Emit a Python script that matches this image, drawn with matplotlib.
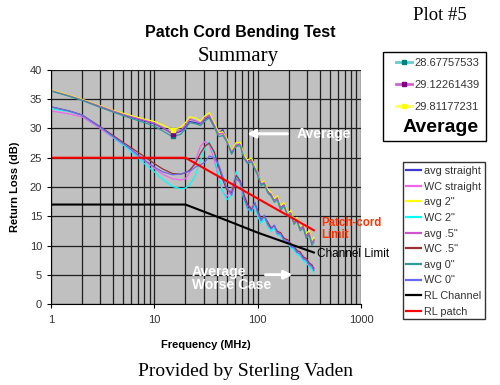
"""
Patch cord bending test - return loss summary (Plot #5).
Saves out.png (500x385).
"""
import matplotlib
matplotlib.use("Agg")
import matplotlib.pyplot as plt
from matplotlib.patches import Rectangle
from matplotlib.ticker import LogLocator, NullFormatter

plt.rcParams["font.family"] = ["Liberation Sans", "DejaVu Sans"]

# frequency points (MHz) shared by the measured curves
freq = [1, 1.5, 2, 3, 4, 5, 6, 8, 10, 12, 15, 18, 20, 22, 25, 28, 31, 34, 38, 42,
        46, 50, 56, 62, 68, 74, 80, 87, 94, 100, 108, 116, 125, 135, 145, 155,
        167, 180, 195, 210, 225, 240, 258, 276, 295, 315, 335, 350]

# average curves (upper bundle)
avg_straight = [36.5, 35.6, 34.9, 33.7, 32.9, 32.3, 31.9, 31.3, 30.8, 30.1, 29.1, 29.5,
                30.2, 31.2, 31.0, 30.8, 31.6, 32.0, 30.4, 29.2, 29.8, 28.2, 25.8, 27.0,
                27.4, 25.2, 24.0, 24.8, 23.4, 22.8, 20.6, 20.6, 19.4, 18.6, 17.8, 18.0,
                16.6, 16.9, 15.3, 15.5, 14.0, 14.3, 13.0, 13.2, 11.8, 12.0, 10.6, 10.9]
avg_2in = [36.6, 35.7, 35.0, 33.9, 33.1, 32.6, 32.2, 31.6, 31.2, 30.6, 29.8, 30.2,
           31.0, 32.0, 31.8, 31.3, 32.2, 32.7, 31.0, 29.3, 29.4, 28.4, 26.2, 27.6,
           27.6, 25.4, 24.6, 25.0, 23.6, 22.6, 20.8, 21.0, 19.6, 19.0, 18.0, 18.5,
           16.8, 17.3, 15.5, 16.0, 14.2, 14.8, 13.2, 13.8, 12.0, 12.6, 10.8, 11.4]
avg_05in = [36.5, 35.6, 34.9, 33.8, 33.0, 32.4, 32.0, 31.4, 30.9, 30.2, 29.2, 29.7,
            30.5, 31.6, 31.3, 30.9, 31.8, 32.3, 30.6, 29.0, 29.2, 28.0, 26.0, 27.2,
            27.2, 25.0, 24.2, 24.6, 23.2, 22.4, 20.4, 20.8, 19.2, 18.8, 17.6, 18.2,
            16.4, 17.0, 15.2, 15.6, 13.8, 14.5, 12.8, 13.4, 11.6, 12.2, 10.4, 11.0]
avg_0in = [36.4, 35.5, 34.8, 33.6, 32.8, 32.2, 31.7, 31.0, 30.4, 29.6, 28.6, 29.0,
           29.9, 31.0, 30.8, 30.5, 31.3, 31.8, 30.2, 28.6, 28.8, 27.8, 25.6, 27.0,
           27.0, 24.8, 24.0, 24.3, 23.0, 22.0, 20.2, 20.5, 19.0, 18.4, 17.4, 17.8,
           16.0, 16.8, 15.0, 15.3, 13.6, 14.2, 12.5, 13.0, 11.2, 11.8, 10.0, 10.6]

# worst-case curves (lower bundle)
wc_straight = [33.0, 32.5, 32.0, 30.0, 28.4, 27.2, 26.2, 24.5, 23.2, 22.2, 21.4, 21.2,
               21.4, 22.5, 24.6, 27.0, 27.8, 27.2, 24.6, 21.6, 19.2, 18.3, 19.6, 22.6,
               20.4, 18.0, 16.8, 16.6, 17.0, 15.4, 14.6, 14.8, 13.4, 13.2, 12.8, 12.6,
               11.6, 11.4, 10.5, 10.4, 9.5, 9.3, 8.4, 8.3, 7.4, 7.2, 6.3, 6.2]
wc_2in = [33.4, 32.9, 32.3, 30.2, 28.5, 27.2, 26.0, 24.0, 22.6, 21.3, 20.1, 19.7,
          19.8, 20.4, 22.0, 24.6, 26.8, 27.7, 25.6, 22.0, 19.2, 17.8, 18.6, 22.6,
          20.8, 17.6, 16.2, 15.8, 16.8, 15.0, 13.8, 14.6, 13.2, 12.4, 13.0, 11.8,
          11.6, 10.6, 10.4, 9.6, 9.2, 8.5, 8.2, 7.4, 7.1, 6.4, 6.0, 5.4]
wc_05in = [33.7, 33.0, 32.3, 30.3, 28.8, 27.6, 26.7, 25.2, 24.0, 23.1, 22.3, 22.2,
           22.4, 22.9, 24.0, 25.8, 27.0, 27.5, 26.0, 23.5, 21.2, 19.6, 19.0, 22.0,
           21.0, 18.6, 17.0, 16.2, 17.2, 16.0, 14.5, 15.0, 14.0, 13.0, 13.4, 12.4,
           12.2, 11.2, 11.0, 10.2, 9.9, 9.1, 8.9, 8.0, 7.8, 7.0, 6.7, 6.0]
wc_0in = [33.7, 33.0, 32.3, 30.2, 28.6, 27.4, 26.4, 24.6, 23.4, 22.6, 22.1, 22.2,
          22.5, 22.7, 23.4, 23.8, 24.3, 25.3, 25.0, 23.8, 21.8, 20.0, 18.6, 21.4,
          20.8, 18.0, 16.4, 16.0, 17.4, 15.6, 14.2, 15.2, 13.6, 12.8, 13.5, 12.0,
          12.0, 10.8, 10.8, 9.8, 9.6, 8.8, 8.6, 7.7, 7.5, 6.7, 6.4, 5.7]

# limit lines
channel_f = [1, 20, 50, 100, 350]
rl_channel = [17, 17, 14.3, 12.2, 8.8]
patch_f = [1, 20, 350]
rl_patch = [25, 25, 12.6]

# marked averages (first legend)
mark_f = [15, 15, 15]
mark_vals = [28.67757533, 29.12261439, 29.81177231]
mark_line = ["#66cccc", "#cc66cc", "#ffff66"]
mark_face = ["#008080", "#800080", "#ffff00"]


def px(x, y):
    return x / 500, 1 - y / 385


fig = plt.figure(figsize=(5, 3.85), dpi=100)
ax = fig.add_axes([51 / 500, 1 - 304 / 385, 310 / 500, 234 / 385])
ax.set_facecolor("#c0c0c0")

lw = 0.9
series = [
    (avg_straight, "#3a3ad0", "avg straight"),
    (wc_straight, "#ee66ee", "WC straight"),
    (avg_2in, "#ffff00", 'avg 2"'),
    (wc_2in, "#00ffff", 'WC 2"'),
    (avg_05in, "#cc55cc", 'avg .5"'),
    (wc_05in, "#993333", 'WC .5"'),
    (avg_0in, "#339999", 'avg 0"'),
    (wc_0in, "#6a6af0", 'WC 0"'),
]
handles = []
for vals, col, lab in series:
    h, = ax.plot(freq, vals, color=col, lw=lw, label=lab)
    handles.append(h)
h, = ax.plot(channel_f, rl_channel, color="black", lw=1.5, label="RL Channel")
handles.append(h)
h, = ax.plot(patch_f, rl_patch, color="#ff0000", lw=1.5, label="RL patch")
handles.append(h)

mark_handles = []
for f, v, lc, fc in zip(mark_f, mark_vals, mark_line, mark_face):
    m, = ax.plot([f], [v], color=lc, lw=2, marker="s", ms=2.5,
                 mfc=fc, mec=fc, label=f"{v:.8f}")
    mark_handles.append(m)

ax.set_xscale("log")
ax.set_xlim(1, 1000)
ax.set_ylim(0, 40)
ax.set_yticks(range(0, 41, 5))
ax.set_xticks([1, 10, 100, 1000])
ax.set_xticklabels(["1", "10", "100", "1000"])
ax.xaxis.set_minor_locator(LogLocator(base=10, subs=range(2, 10)))
ax.xaxis.set_minor_formatter(NullFormatter())
ax.tick_params(axis="both", which="major", length=3, width=0.8,
               labelsize=8, labelcolor="#333333", direction="out")
ax.tick_params(axis="x", which="minor", length=0)
ax.tick_params(axis="x", pad=5)
ax.grid(True, which="both", axis="x", color="#1e1e1e", lw=0.9)
ax.grid(True, which="major", axis="y", color="#1e1e1e", lw=0.9)
ax.set_axisbelow(True)
for s in ("top", "right"):
    ax.spines[s].set_visible(False)

ax.set_xlabel("Frequency (MHz)", fontsize=8, fontweight="bold")
ax.set_ylabel("Return Loss (dB)", fontsize=8, fontweight="bold")
ax.xaxis.set_label_coords(0.5, -0.155)
ax.yaxis.set_label_coords(-0.1, 0.5)

# annotations
ax.annotate("", xy=(74, 29.1), xytext=(206, 29.1),
            arrowprops=dict(arrowstyle="-|>", color="white", lw=2.2, mutation_scale=12))
ax.text(240, 29.1, "Average", color="white", fontsize=10, fontweight="bold",
        va="center", ha="left")
ax.annotate("", xy=(232, 5.0), xytext=(112, 5.0),
            arrowprops=dict(arrowstyle="-|>", color="white", lw=2.2, mutation_scale=12))
ax.text(23.2, 4.4, "Average\nWorse Case", color="white", fontsize=10,
        fontweight="bold", va="center", ha="left", linespacing=0.95)
ax.text(411, 12.8, "Patch-cord\nLimit", color="#ff3300", fontsize=8.3,
        fontweight="bold", va="center", ha="left", linespacing=1.05, clip_on=False)
ax.text(374, 8.5, "Channel Limit", color="black", fontsize=8.5,
        va="center", ha="left", clip_on=False)

# titles
fig.text(*px(240, 33), "Patch Cord Bending Test", fontsize=11.5, fontweight="bold",
         ha="center", va="center")
fig.text(*px(238, 56), "Summary", fontsize=15, family="Liberation Serif",
         ha="center", va="center")
fig.text(*px(440, 15), "Plot #5", fontsize=13.5, family="Liberation Serif",
         ha="center", va="center")
fig.text(*px(245, 371), "Provided by Sterling Vaden", fontsize=14,
         family="Liberation Serif", ha="center", va="center")

# first legend box (marked averages)
fig.patches.append(Rectangle(px(383, 141), 103 / 500, 89 / 385, transform=fig.transFigure,
                             fill=False, edgecolor="black", lw=1))
leg1 = fig.legend(handles=mark_handles, loc="upper left", bbox_to_anchor=px(396, 58),
                  frameon=False, fontsize=8, handlelength=1.4, handletextpad=0.25,
                  labelspacing=1.08, borderpad=0, borderaxespad=0, labelcolor="#333333")
fig.text(*px(441, 127), "Average", fontsize=14, fontweight="bold",
         ha="center", va="center")

# second legend box
fig.patches.append(Rectangle(px(403, 319), 82 / 500, 157 / 385, transform=fig.transFigure,
                             fill=False, edgecolor="#333333", lw=1))
leg2 = fig.legend(handles=handles, loc="upper left", bbox_to_anchor=px(406, 166),
                  frameon=False, fontsize=7.8, handlelength=1.4, handletextpad=0.25,
                  labelspacing=0.52, borderpad=0, borderaxespad=0, labelcolor="#333333")
for lh in leg2.legend_handles:
    lh.set_linewidth(1.6)

fig.savefig("out.png", dpi=100)
